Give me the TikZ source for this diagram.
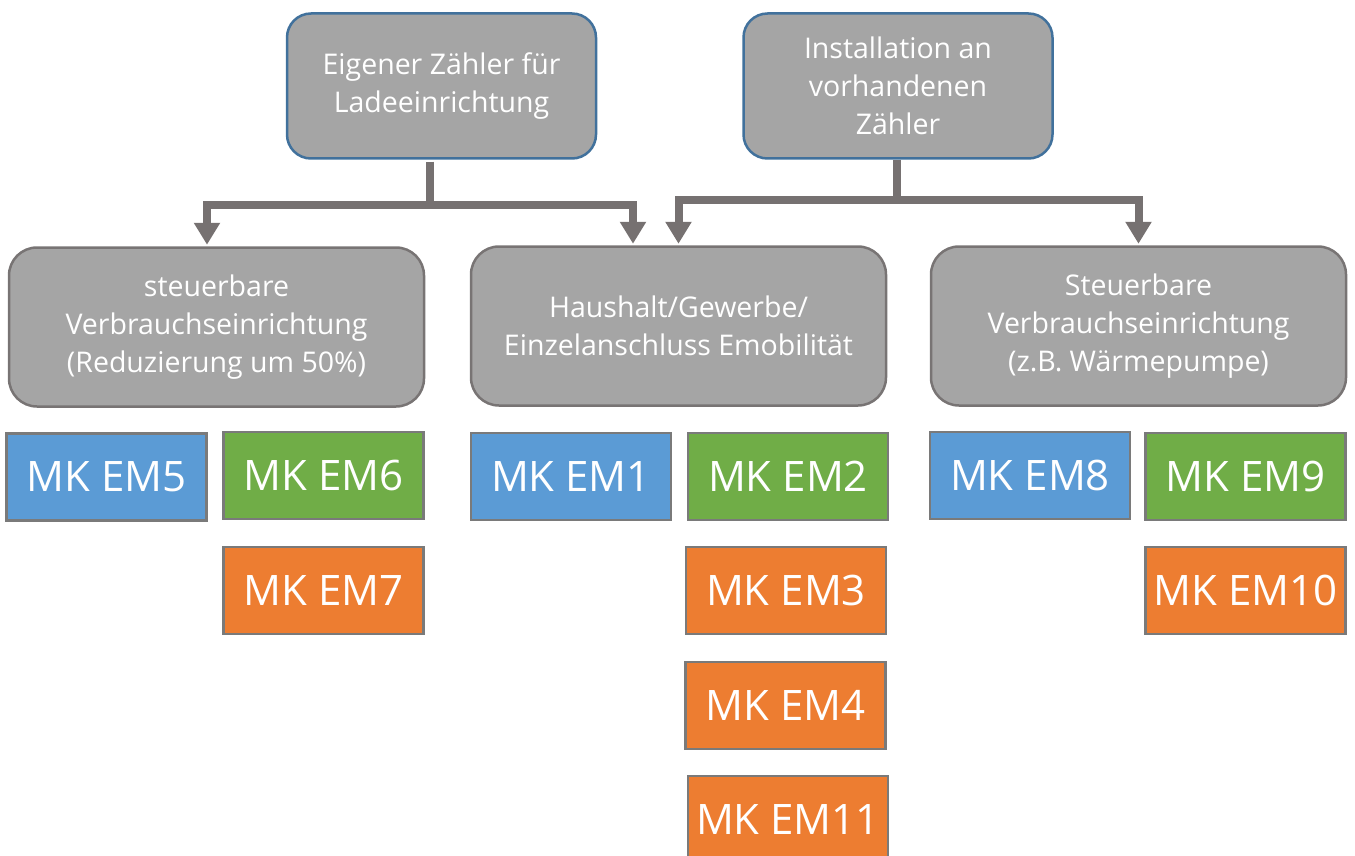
\documentclass[tikz,border=0pt]{standalone}
\usepackage{fontspec}
\setmainfont{Open Sans}
\usetikzlibrary{arrows.meta}
\definecolor{boxgray}{HTML}{A5A5A5}
\definecolor{topborder}{HTML}{41719C}
\definecolor{midborder}{HTML}{787474}
\definecolor{conncol}{HTML}{767171}
\definecolor{mkblue}{HTML}{5B9BD5}
\definecolor{mkgreen}{HTML}{70AD47}
\definecolor{mkorange}{HTML}{ED7D31}
\definecolor{mkborder}{HTML}{7A7A7A}
\tikzset{
  topbox/.style={draw=topborder, line width=2.5pt, fill=boxgray, rounded corners=24pt,
    minimum width=309pt, minimum height=145pt, text=white, align=center, inner sep=0pt,
    font=\fontsize{28.5}{38}\selectfont},
  midbox/.style={draw=midborder, line width=2.5pt, fill=boxgray, rounded corners=28pt,
    minimum width=415pt, minimum height=159pt, text=white, align=center, inner sep=0pt,
    font=\fontsize{28.5}{38}\selectfont},
  mk/.style={draw=mkborder, line width=2.5pt, minimum width=200pt, minimum height=87pt,
    text=white, inner sep=0pt, font=\fontsize{42}{48}\selectfont},
  mkb/.style={mk, fill=mkblue},
  mkg/.style={mk, fill=mkgreen},
  mko/.style={mk, fill=mkorange},
  conn/.style={draw=conncol, line width=8pt, line join=miter,
    -{Triangle[width=25pt,length=22pt]}},
  connline/.style={draw=conncol, line width=8pt}
}
\begin{document}
\begin{tikzpicture}[x=1pt,y=-1pt]
\useasboundingbox (0,0) rectangle (1355,856);
% top boxes
\node[topbox] (A) at (441.5,86) {Eigener Zähler für\\Ladeeinrichtung};
\node[topbox] (B) at (898,86) {Installation an\\vorhandenen\\Zähler};
% middle boxes
\node[midbox] (L) at (216.5,327) {steuerbare\\Verbrauchseinrichtung\\(Reduzierung um 50\%)};
\node[midbox] (M) at (678.5,326) {Haushalt/Gewerbe/\\Einzelanschluss Emobilität};
\node[midbox] (R) at (1138.5,326) {Steuerbare\\Verbrauchseinrichtung\\(z.B. Wärmepumpe)};
% MK boxes
\node[mkb] (em5) at (106.5,477) {MK EM5};
\node[mkg] (em6) at (323.5,475.5) {MK EM6};
\node[mko] (em7) at (323.5,590.5) {MK EM7};
\node[mkb] (em1) at (571,476.5) {MK EM1};
\node[mkg] (em2) at (788,476.5) {MK EM2};
\node[mko] (em3) at (786,590.5) {MK EM3};
\node[mko] (em4) at (785.5,705.5) {MK EM4};
\node[mko] (em11) at (788,819.5) {MK EM11};
\node[mkb] (em8) at (1030,475.5) {MK EM8};
\node[mkg] (em9) at (1245.5,476.5) {MK EM9};
\node[mko] (em10) at (1245.5,590.5) {MK EM10};
% connectors
\coordinate (ja) at (430,205);
\coordinate (jb) at (897,200);
\draw[connline] ([xshift=-11.5pt]A.south) ++(0,2) -- (ja);
\draw[conn] (ja) -| ([xshift=-9.5pt,yshift=1.5pt]L.north);
\draw[conn] (ja) -| ([xshift=-45.5pt,yshift=1.5pt]M.north);
\draw[connline] ([xshift=-1pt]B.south) -- (jb);
\draw[conn] (jb) -| ([yshift=1.5pt]M.north);
\draw[conn] (jb) -| ([yshift=1.5pt]R.north);
\end{tikzpicture}
\end{document}
